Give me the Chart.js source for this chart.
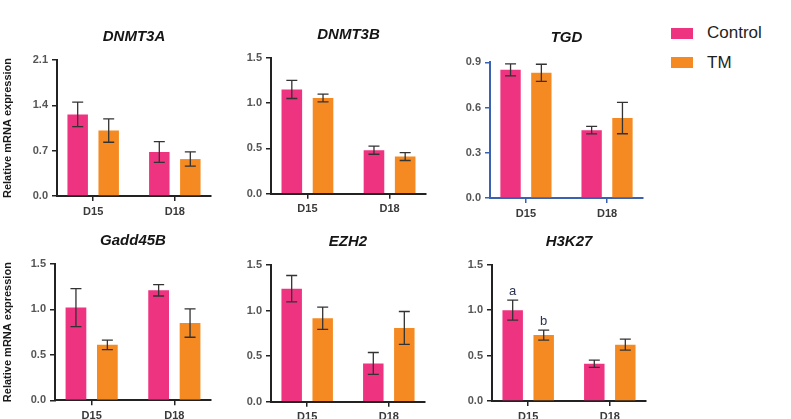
<!DOCTYPE html>
<html>
<head>
<meta charset="utf-8">
<script src="https://cdn.jsdelivr.net/npm/chart.js@4.4.1/dist/chart.umd.min.js"></script>
<style>
  html, body { margin: 0; padding: 0; background: #fff; }
  #wrap { position: relative; width: 791px; height: 419px; overflow: hidden; background: #fff; }
  #wrap canvas { position: absolute; left: 0; top: 0; pointer-events: none; }
  .lg { position: absolute; font-family: Arial, "Liberation Sans", sans-serif; font-size: 17px; color: #1e1e1e; line-height: 20px; }
  .sw { position: absolute; width: 22px; height: 11px; }
</style>
</head>
<body>
<div id="wrap">
  <div class="sw" style="left:671px; top:28px; background:#ee3380;"></div>
  <div class="lg" style="left:707px; top:23px;">Control</div>
  <div class="sw" style="left:671px; top:57px; background:#f58a22;"></div>
  <div class="lg" style="left:707px; top:53px;">TM</div>
</div>
<script>
// ---- data ----
const categories = ['D15', 'D18'];
const genes = ['DNMT3A', 'DNMT3B', 'TGD', 'Gadd45B', 'EZH2', 'H3K27'];
const seriesNames = ['Control', 'TM'];
const controlMeans = [[1.26, 0.68], [1.15, 0.48], [0.85, 0.45], [1.02, 1.21], [1.24, 0.42], [1.00, 0.41]];
const controlErr   = [[0.19, 0.16], [0.10, 0.045], [0.04, 0.025], [0.21, 0.062], [0.145, 0.12], [0.11, 0.04]];
const tmMeans      = [[1.01, 0.57], [1.055, 0.41], [0.83, 0.53], [0.61, 0.85], [0.915, 0.81], [0.725, 0.62]];
const tmErr        = [[0.18, 0.11], [0.043, 0.044], [0.057, 0.104], [0.053, 0.156], [0.122, 0.18], [0.055, 0.06]];
const yMax  = [2.1, 1.5, 0.9, 1.5, 1.5, 1.5];
const yStep = [0.7, 0.5, 0.3, 0.5, 0.5, 0.5];
// significance letters per gene, one entry per category
const controlLetters = [null, null, null, null, null, ['a', null]];
const tmLetters      = [null, null, null, null, null, ['b', null]];
const yTitle = 'Relative mRNA expression';

// ---- layout (pixels) ----
const W = 791, H = 440;
const panels = [
  { left: 57,  top: 60,   right: 211, bottom: 196,   titleY: 37,  axisColor: '#222', yTitle: true },
  { left: 271, top: 57.7, right: 426, bottom: 193.7, titleY: 35,  axisColor: '#222', yTitle: false },
  { left: 490, top: 62.3, right: 643, bottom: 198,   titleY: 38,  axisColor: '#3a62b0', yTitle: false },
  { left: 55,  top: 264,  right: 211, bottom: 400.3, titleY: 241, axisColor: '#222', yTitle: true },
  { left: 271, top: 265,  right: 425, bottom: 401.7, titleY: 242, axisColor: '#222', yTitle: false },
  { left: 492, top: 264.7,right: 646, bottom: 401,   titleY: 242, axisColor: '#222', yTitle: false }
];
const colors = ['#ee3380', '#f58a22'];
const FONT = 'Arial, "Liberation Sans", sans-serif';
const X_H = 26, Y_W = 40, TITLE_SIZE = 15, TITLE_LH = 18;
const CAT_FRACTION = 0.53;   // fraction of the axis width between the two category centres

const errorBars = {
  id: 'errorBars',
  afterDatasetsDraw(chart) {
    const ctx = chart.ctx;
    const ys = chart.scales.y;
    ctx.save();
    ctx.strokeStyle = '#333';
    ctx.lineWidth = 1.3;
    chart.data.datasets.forEach((ds, di) => {
      const meta = chart.getDatasetMeta(di);
      meta.data.forEach((el, i) => {
        const m = ds.data[i], e = ds.err[i];
        const yT = ys.getPixelForValue(m + e), yB = ys.getPixelForValue(m - e);
        const x = el.x, cap = 5.5;
        ctx.beginPath();
        ctx.moveTo(x, yT); ctx.lineTo(x, yB);
        ctx.moveTo(x - cap, yT); ctx.lineTo(x + cap, yT);
        ctx.moveTo(x - cap, yB); ctx.lineTo(x + cap, yB);
        ctx.stroke();
        const lt = ds.letters && ds.letters[i];
        if (lt) {
          ctx.fillStyle = '#2b3350';
          ctx.font = '13px ' + FONT;
          ctx.textAlign = 'center';
          ctx.textBaseline = 'bottom';
          ctx.fillText(lt, x, yT - 2);
        }
      });
    });
    ctx.restore();
  }
};

const wrap = document.getElementById('wrap');
genes.forEach((g, k) => {
  const p = panels[k];
  const cv = document.createElement('canvas');
  cv.width = W; cv.height = H;
  wrap.appendChild(cv);
  const yw = p.yTitle ? p.left : Y_W;
  const padTop = 0;
  const tPadTop = p.titleY - padTop - TITLE_LH / 2;
  const tPadBottom = p.top - p.titleY - TITLE_LH / 2;
  new Chart(cv, {
    type: 'bar',
    data: {
      labels: categories,
      datasets: [
        { label: seriesNames[0], data: controlMeans[k], err: controlErr[k], backgroundColor: colors[0], letters: controlLetters[k] },
        { label: seriesNames[1], data: tmMeans[k], err: tmErr[k], backgroundColor: colors[1], letters: tmLetters[k] }
      ]
    },
    options: {
      responsive: false,
      animation: false,
      events: [],
      layout: { padding: { left: p.left - yw, right: W - p.right, top: padTop, bottom: H - p.bottom - X_H } },
      datasets: { bar: { categoryPercentage: 0.76, barPercentage: 0.66 } },
      plugins: {
        legend: { display: false },
        tooltip: { enabled: false },
        title: { display: true, fullSize: false, text: g, color: '#151515',
          font: { family: FONT, size: TITLE_SIZE, weight: 'bold', style: 'italic', lineHeight: TITLE_LH / TITLE_SIZE },
          padding: { top: tPadTop, bottom: tPadBottom } }
      },
      scales: {
        x: {
          offset: true,
          afterBuildTicks: s => {
            const n = s.ticks.length;
            s._valueRange = 1 / CAT_FRACTION * (n - 1);
            s._startValue = -(s._valueRange - (n - 1)) / 2;
          },
          afterFit: s => { s.height = X_H; },
          grid: { offset: false, drawOnChartArea: false, drawTicks: true, tickLength: 5, color: p.axisColor, lineWidth: 1.5 },
          border: { display: true, color: p.axisColor, width: 2 },
          ticks: { color: '#3a3a3a', padding: 4, font: { family: FONT, size: 11, weight: 'bold' } }
        },
        y: {
          min: 0, max: yMax[k],
          afterFit: s => { s.width = yw; },
          grid: { drawOnChartArea: false, drawTicks: true, tickLength: 5, color: p.axisColor, lineWidth: 1.5 },
          border: { display: true, color: p.axisColor, width: 2 },
          ticks: { stepSize: yStep[k], color: '#555', padding: 4,
            font: { family: FONT, size: 11, weight: 'bold' },
            callback: v => Number(v).toFixed(1) },
          title: { display: p.yTitle, text: yTitle, color: '#1a1a1a', padding: { top: 1.5, bottom: 0 },
            font: { family: FONT, size: 11, weight: 'bold', lineHeight: 1.2 } }
        }
      }
    },
    plugins: [errorBars]
  });
});
</script>
</body>
</html>
